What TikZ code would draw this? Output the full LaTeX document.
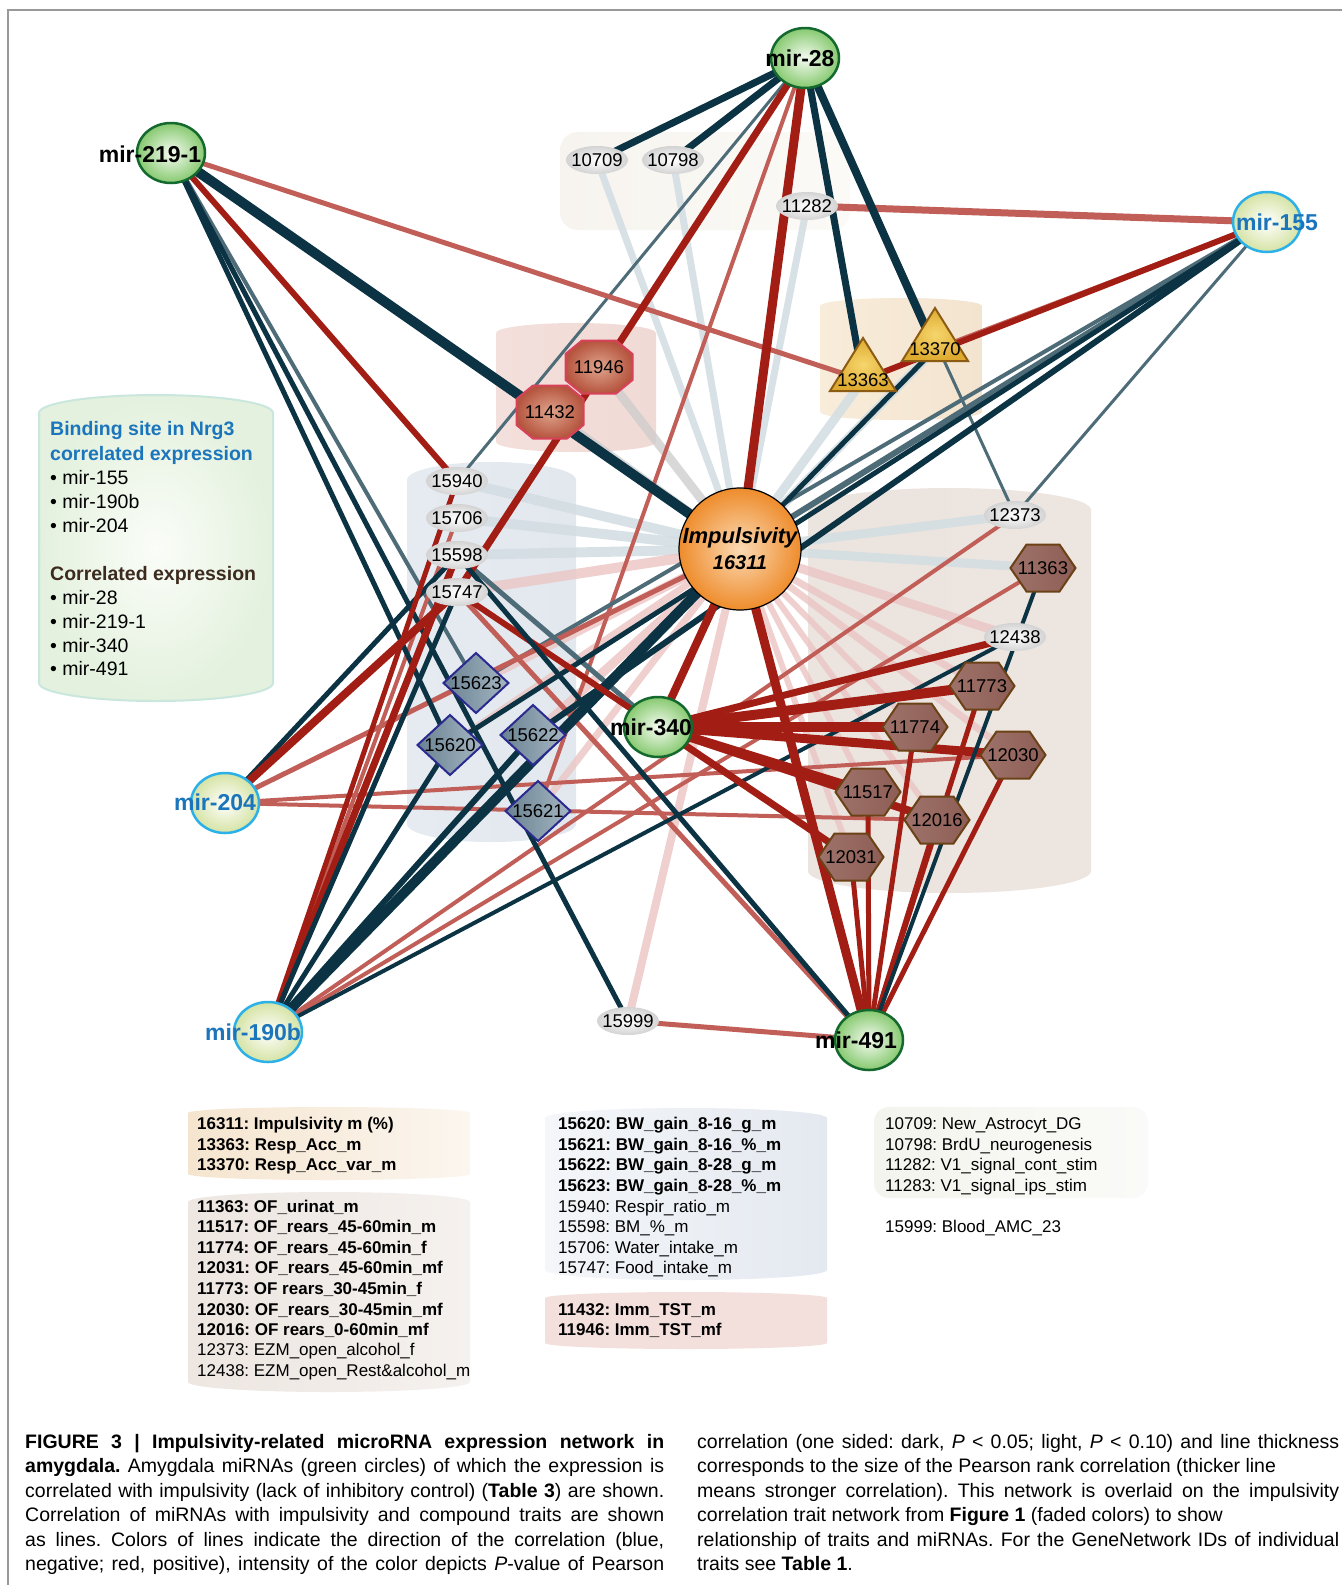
\documentclass[tikz,border=0pt]{standalone}
\usepackage{fontspec}
\setmainfont{Liberation Sans}
\usetikzlibrary{shapes.geometric}
\frenchspacing
\definecolor{cDB}{HTML}{0B3343}
\definecolor{cSB}{HTML}{4E6C78}
\definecolor{cDR}{HTML}{A21E15}
\definecolor{cLR}{HTML}{C05E57}
\definecolor{cFB}{HTML}{D2DDE2}
\definecolor{cFR}{HTML}{EBC5C4}
\definecolor{cFG}{HTML}{CCCCCC}
\definecolor{cBlue}{HTML}{1B75BC}
\definecolor{cBrownT}{HTML}{3D2A1E}
\definecolor{cGreenB}{HTML}{14692F}
\definecolor{cGreenO}{HTML}{86C96F}
\definecolor{cGreenI}{HTML}{F6FBF2}
\definecolor{cBlueB}{HTML}{2BB0E8}
\definecolor{cYelO}{HTML}{D5E3A4}
\definecolor{cGreyO}{HTML}{D3D3D3}
\definecolor{cOctB}{HTML}{D8415A}
\definecolor{cOctI}{HTML}{DFA48C}
\definecolor{cOctO}{HTML}{B6553F}
\definecolor{cTriB}{HTML}{8C5C14}
\definecolor{cTriI}{HTML}{F6D66E}
\definecolor{cTriO}{HTML}{DDA92E}
\definecolor{cDiaB}{HTML}{2A2A90}
\definecolor{cDiaL}{HTML}{6A8292}
\definecolor{cDiaR}{HTML}{A5B6C2}
\definecolor{cHexB}{HTML}{6B4216}
\definecolor{cHexL}{HTML}{9E726A}
\definecolor{cHexM}{HTML}{B8958F}
\definecolor{cHexR}{HTML}{8D5E56}
\definecolor{cImpI}{HTML}{FBDAB4}
\definecolor{cImpO}{HTML}{EE8C2C}
% background tints
\definecolor{bRedL}{HTML}{F3DFDB}\definecolor{bRedM}{HTML}{F6E8E5}\definecolor{bRedR}{HTML}{F0DAD6}
\definecolor{bOrL}{HTML}{F8ECDA}\definecolor{bOrM}{HTML}{FCF6EE}\definecolor{bOrR}{HTML}{F3E4CF}
\definecolor{bBlL}{HTML}{E6EAF1}\definecolor{bBlM}{HTML}{F2F4F8}\definecolor{bBlR}{HTML}{E3E8EF}
\definecolor{bBrL}{HTML}{ECE4DF}\definecolor{bBrM}{HTML}{F8F6F2}\definecolor{bBrR}{HTML}{EDE5E0}
\definecolor{bGrI}{HTML}{FAFDF8}\definecolor{bGrO}{HTML}{E4F1DE}\definecolor{bGrB}{HTML}{C9E7DC}
\definecolor{bTopL}{HTML}{F7F4EF}\definecolor{bTopR}{HTML}{FBFAF6}
\definecolor{lOrL}{HTML}{F5E5CF}\definecolor{lOrR}{HTML}{FBF6EF}
\definecolor{lBrL}{HTML}{EDE6E1}\definecolor{lBrR}{HTML}{F5F1EE}
\definecolor{lBlL}{HTML}{F4F6F9}\definecolor{lBlR}{HTML}{E4E9F0}
\definecolor{lRd}{HTML}{F3E0DD}
\definecolor{lGyL}{HTML}{F4F4EE}\definecolor{lGyR}{HTML}{FAFAF8}
\pgfdeclarelayer{bg}
\pgfdeclarelayer{edges}
\pgfsetlayers{bg,edges,main}
\newcommand\fs[1]{\fontsize{#1}{#1}\selectfont}
\newcommand\cedge[4]{\draw[#1,line width=#2pt] (#3.center) -- (#4.center);}
\newcommand\octat[3]{\path[octs] (#2) ++(-17,-26.5) -- ++(34,0) -- ++(16.5,13.5) -- ++(0,26) -- ++(-16.5,13.5) -- ++(-34,0) -- ++(-16.5,-13.5) -- ++(0,-26) -- cycle; \node[plab] (#1) at (#2) {#3};}
\newcommand\hexat[3]{\path[hexs] (#2) ++(-32.5,0) -- ++(16,-23.5) -- ++(33,0) -- ++(16,23.5) -- ++(-16,23.5) -- ++(-33,0) -- cycle; \node[plab] (#1) at (#2) {#3};}
\newcommand\diaat[3]{\path[dias] (#2) ++(-32.5,0) -- ++(32.5,-30) -- ++(32.5,30) -- ++(-32.5,30) -- cycle; \node[plab] (#1) at (#2) {#3};}
\newcommand\triat[4]{\path[tris] (#2) ++(0,-34) -- ++(33,53) -- ++(-66,0) -- cycle; \node[plab] (#1) at (#3) {#4};}
\newcommand\cyl[6]{\path[#6] (#1,#2+#5) -- (#1,#4-#5) arc[start angle=180,end angle=0,x radius={(#3-#1)/2},y radius=#5] -- (#3,#2+#5) arc[start angle=0,end angle=-180,x radius={(#3-#1)/2},y radius=#5] -- cycle;}
\newcommand\jl[1]{\makebox[639pt][s]{#1}}
\newcommand\jr[1]{\makebox[642pt][s]{#1}}
\begin{document}
\begin{tikzpicture}[x=1pt,y=-1pt,
  eDB/.style={draw=cDB}, eSB/.style={draw=cSB}, eDR/.style={draw=cDR}, eLR/.style={draw=cLR},
  eFB/.style={draw=cFB,draw opacity=0.85}, eFR/.style={draw=cFR,draw opacity=0.8}, eFG/.style={draw=cFG,draw opacity=0.75},
  mirg/.style={ellipse,minimum width=68pt,minimum height=60pt,inner sep=0pt,draw=cGreenB,line width=2.5pt,inner color=cGreenI,outer color=cGreenO},
  mirb/.style={ellipse,minimum width=68pt,minimum height=60pt,inner sep=0pt,draw=cBlueB,line width=2.5pt,inner color=white,outer color=cYelO},
  mirlab/.style={font=\fs{23}\bfseries,inner sep=0pt},
  gel/.style={ellipse,minimum width=62pt,minimum height=28pt,inner xsep=-4pt,inner ysep=0pt,inner color=white,outer color=cGreyO,font=\fs{18.5}},
  plab/.style={font=\fs{18.5},inner sep=0pt},
  octs/.style={draw=cOctB,line width=2pt,inner color=cOctI,outer color=cOctO},
  tris/.style={draw=cTriB,line width=2pt,inner color=cTriI,outer color=cTriO},
  dias/.style={draw=cDiaB,line width=2pt,left color=cDiaL,right color=cDiaR},
  hexs/.style={draw=cHexB,line width=2pt,left color=cHexL,middle color=cHexM,right color=cHexR},
  lg/.style={anchor=base west,inner sep=0pt,font=\fs{17}},
  nr/.style={anchor=base west,inner sep=0pt,font=\fs{19.5}},
  captext/.style={anchor=base west,inner sep=0pt,font=\fs{19.5}}]
\useasboundingbox (0,0) rectangle (1342,1585);
\begin{pgfonlayer}{bg}
\fill[white] (0,0) rectangle (1342,1585);
\draw[gray!80,line width=1.5pt] (1342,10) -- (8,10) -- (8,1585);
% background groups
\path[left color=bTopL,right color=bTopR,rounded corners=18pt] (560,132) rectangle (850,230);
\cyl{496}{323}{656}{452}{10}{left color=bRedL,middle color=bRedM,right color=bRedR}
\cyl{820}{298}{982}{420}{8}{left color=bOrL,middle color=bOrM,right color=bOrR}
\cyl{407}{462}{576}{842}{18}{left color=bBlL,middle color=bBlM,right color=bBlR}
\cyl{808}{488}{1091}{893}{22}{left color=bBrL,middle color=bBrM,right color=bBrR}
\cyl{39}{395}{273}{701}{18}{draw=bGrB,line width=2pt,inner color=bGrI,outer color=bGrO}
% bottom legend boxes
\cyl{188}{1107}{470}{1180}{6}{left color=lOrL,right color=lOrR}
\cyl{188}{1192}{470}{1392}{10}{left color=lBrL,right color=lBrR}
\cyl{545}{1108}{827}{1280}{10}{left color=lBlL,right color=lBlR}
\cyl{545}{1292}{827}{1349}{6}{fill=lRd}
\path[left color=lGyL,right color=lGyR,rounded corners=15pt] (874,1107) rectangle (1148,1198);
\end{pgfonlayer}
% ---- nodes ----
\node[mirg] (mir28) at (805,58) {};
\node[mirlab] (mir28t) at (800,58) {mir-28};
\node[mirg] (mir219) at (171,153) {};
\node[mirlab] (mir219t) at (150,154) {mir-219-1};
\node[mirb] (mir155) at (1267,222) {};
\node[mirlab,text=cBlue] (mir155t) at (1277,222) {mir-155};
\node[mirb] (mir204) at (225,803) {};
\node[mirlab,text=cBlue] (mir204t) at (215,802) {mir-204};
\node[mirb] (mir190b) at (268,1032) {};
\node[mirlab,text=cBlue] (mir190bt) at (253,1032) {mir-190b};
\node[mirg] (mir491) at (869,1040) {};
\node[mirlab] (mir491t) at (856,1040) {mir-491};
\node[mirg] (mir340) at (658,727) {};
\node[mirlab] (mir340t) at (651,727) {mir-340};
\node[circle,minimum size=122pt,inner sep=0pt,draw=black,line width=1.2pt,inner color=cImpI,outer color=cImpO] (imp) at (740,549) {};
\node[font=\fs{22}\bfseries\itshape,inner sep=0pt] (impa) at (740,538) {Impulsivity};
\node[font=\fs{20}\bfseries\itshape,inner sep=0pt] (impb) at (740,563) {16311};
\node[gel] (n10709) at (597,160) {10709};
\node[gel] (n10798) at (673,160) {10798};
\node[gel] (n11282) at (807,206) {11282};
\node[gel] (n15940) at (457,481) {15940};
\node[gel] (n15706) at (457,518) {15706};
\node[gel] (n15598) at (457,555) {15598};
\node[gel] (n15747) at (457,592) {15747};
\node[gel] (n12373) at (1015,515) {12373};
\node[gel] (n12438) at (1015,637) {12438};
\node[gel] (n15999) at (628,1021) {15999};
\octat{o11946}{599,367}{11946}
\octat{o11432}{550,412}{11432}
\triat{t13363}{863,372}{863,380}{13363}
\triat{t13370}{935,342}{935,349}{13370}
\diaat{d15623}{476,683}{15623}
\diaat{d15620}{450,745}{15620}
\diaat{d15622}{533,735}{15622}
\diaat{d15621}{538,811}{15621}
\hexat{h11363}{1043,568}{11363}
\hexat{h11773}{982,686}{11773}
\hexat{h11774}{915,727}{11774}
\hexat{h12030}{1013,755}{12030}
\hexat{h11517}{868,792}{11517}
\hexat{h12016}{937,820}{12016}
\hexat{h12031}{851,857}{12031}
% ---- edges ----
\begin{pgfonlayer}{edges}
% faded trait network
\cedge{eFB}{7}{imp}{n10709}
\cedge{eFB}{7}{imp}{n10798}
\cedge{eFB}{7}{imp}{n11282}
\cedge{eFG}{9}{imp}{o11946}
\cedge{eFG}{9}{imp}{o11432}
\cedge{eFB}{9}{imp}{t13363}
\cedge{eFB}{9}{imp}{t13370}
\cedge{eFB}{10}{imp}{n15940}
\cedge{eFB}{10}{imp}{n15706}
\cedge{eFB}{10}{imp}{n15598}
\cedge{eFR}{10}{imp}{n15747}
\cedge{eFB}{9}{imp}{n12373}
\cedge{eFB}{9}{imp}{h11363}
\cedge{eFR}{9}{imp}{n12438}
\cedge{eFR}{7}{imp}{h11773}
\cedge{eFR}{7}{imp}{h12030}
\cedge{eFR}{6}{imp}{h11774}
\cedge{eFR}{6}{imp}{h11517}
\cedge{eFR}{6}{imp}{h12016}
\cedge{eFR}{6}{imp}{h12031}
\cedge{eFR}{9}{imp}{d15623}
\cedge{eFR}{9}{imp}{d15622}
\cedge{eFR}{7}{imp}{d15620}
\cedge{eFR}{7}{imp}{d15621}
\cedge{eFR}{8}{imp}{n15999}
% light edges
\cedge{eLR}{4}{mir28}{d15621}
\cedge{eSB}{3}{mir28}{n15940}
\cedge{eSB}{3}{mir28}{n12373}
\cedge{eLR}{5}{mir219}{t13363}
\cedge{eSB}{4}{mir219}{d15623}
\cedge{eLR}{7}{mir155}{n11282}
\cedge{eLR}{4}{mir155}{t13370}
\cedge{eSB}{6}{mir155}{imp}
\cedge{eSB}{4}{mir155}{d15623}
\cedge{eSB}{3}{mir155}{n12373}
\cedge{eLR}{5}{mir204}{imp}
\cedge{eLR}{4}{mir204}{h12030}
\cedge{eLR}{4}{mir204}{h12016}
\cedge{eLR}{4}{mir190b}{n15706}
\cedge{eLR}{4}{mir190b}{h11363}
\cedge{eLR}{4}{mir190b}{n12373}
\cedge{eSB}{5}{mir340}{n15598}
\cedge{eLR}{5}{mir491}{n15999}
\cedge{eLR}{5}{mir491}{n15747}
% dark edges
\cedge{eDB}{7}{mir28}{n10709}
\cedge{eDB}{7}{mir28}{n10798}
\cedge{eDR}{7}{mir28}{n15747}
\cedge{eDR}{9}{mir28}{imp}
\cedge{eDB}{7}{mir28}{t13363}
\cedge{eDB}{8}{mir28}{t13370}
\cedge{eDB}{10}{mir219}{imp}
\cedge{eDR}{6}{mir219}{n15940}
\cedge{eDB}{5}{mir219}{d15620}
\cedge{eDB}{5}{mir219}{n15999}
\cedge{eDR}{6}{mir155}{t13363}
\cedge{eDB}{6}{mir155}{d15622}
\cedge{eDB}{5}{mir155}{d15620}
\cedge{eDB}{5}{mir204}{n15598}
\cedge{eDR}{8}{mir204}{n15747}
\cedge{eDR}{5}{mir190b}{n15940}
\cedge{eDR}{7}{mir190b}{n15598}
\cedge{eDB}{5}{mir190b}{n15747}
\cedge{eDB}{5}{mir190b}{d15620}
\cedge{eDB}{6}{mir190b}{d15622}
\cedge{eDB}{10}{mir190b}{imp}
\cedge{eDB}{5}{mir190b}{t13370}
\cedge{eDB}{4}{mir190b}{n12438}
\cedge{eDR}{8}{mir340}{imp}
\cedge{eDR}{7}{mir340}{n12438}
\cedge{eDR}{10}{mir340}{h11773}
\cedge{eDR}{10}{mir340}{h11774}
\cedge{eDR}{9}{mir340}{h12030}
\cedge{eDR}{9}{mir340}{h11517}
\cedge{eDR}{8}{mir340}{h12016}
\cedge{eDR}{7}{mir340}{h12031}
\cedge{eDR}{6}{mir340}{n15747}
\cedge{eDR}{9}{mir491}{imp}
\cedge{eDB}{5}{mir491}{n15598}
\cedge{eDR}{5}{mir491}{h12031}
\cedge{eDR}{5}{mir491}{h11517}
\cedge{eDR}{5}{mir491}{h11774}
\cedge{eDR}{5}{mir491}{h11773}
\cedge{eDR}{5}{mir491}{h12016}
\cedge{eDR}{5}{mir491}{h12030}
\cedge{eDB}{4}{mir491}{h11363}
\end{pgfonlayer}
% ---- Nrg3 legend ----
\node[nr,font=\fs{19.5}\bfseries,text=cBlue] (nr1) at (50,435) {Binding site in Nrg3};
\node[nr,font=\fs{19.5}\bfseries,text=cBlue] (nr2) at (50,460) {correlated expression};
\node[nr] (nr3) at (50,484) {• mir-155};
\node[nr] (nr4) at (50,508) {• mir-190b};
\node[nr] (nr5) at (50,532) {• mir-204};
\node[nr,font=\fs{19.5}\bfseries,text=cBrownT] (nr6) at (50,580) {Correlated expression};
\node[nr] (nr7) at (50,604) {• mir-28};
\node[nr] (nr8) at (50,628) {• mir-219-1};
\node[nr] (nr9) at (50,652) {• mir-340};
\node[nr] (nr10) at (50,675) {• mir-491};
% ---- bottom legends ----
\node[lg,font=\fs{17}\bfseries] (la1) at (197,1129) {16311: Impulsivity m (\%)};
\node[lg,font=\fs{17}\bfseries] (la2) at (197,1150) {13363: Resp\_Acc\_m};
\node[lg,font=\fs{17}\bfseries] (la3) at (197,1170) {13370: Resp\_Acc\_var\_m};
\node[lg,font=\fs{17}\bfseries] (lb1) at (197,1212) {11363: OF\_urinat\_m};
\node[lg,font=\fs{17}\bfseries] (lb2) at (197,1232) {11517: OF\_rears\_45-60min\_m};
\node[lg,font=\fs{17}\bfseries] (lb3) at (197,1253) {11774: OF\_rears\_45-60min\_f};
\node[lg,font=\fs{17}\bfseries] (lb4) at (197,1273) {12031: OF\_rears\_45-60min\_mf};
\node[lg,font=\fs{17}\bfseries] (lb5) at (197,1294) {11773: OF rears\_30-45min\_f};
\node[lg,font=\fs{17}\bfseries] (lb6) at (197,1315) {12030: OF\_rears\_30-45min\_mf};
\node[lg,font=\fs{17}\bfseries] (lb7) at (197,1335) {12016: OF rears\_0-60min\_mf};
\node[lg] (lb8) at (197,1355) {12373: EZM\_open\_alcohol\_f};
\node[lg] (lb9) at (197,1376) {12438: EZM\_open\_Rest\&alcohol\_m};
\node[lg,font=\fs{17}\bfseries] (lc1) at (558,1129) {15620: BW\_gain\_8-16\_g\_m};
\node[lg,font=\fs{17}\bfseries] (lc2) at (558,1150) {15621: BW\_gain\_8-16\_\%\_m};
\node[lg,font=\fs{17}\bfseries] (lc3) at (558,1170) {15622: BW\_gain\_8-28\_g\_m};
\node[lg,font=\fs{17}\bfseries] (lc4) at (558,1191) {15623: BW\_gain\_8-28\_\%\_m};
\node[lg] (lc5) at (558,1212) {15940: Respir\_ratio\_m};
\node[lg] (lc6) at (558,1232) {15598: BM\_\%\_m};
\node[lg] (lc7) at (558,1253) {15706: Water\_intake\_m};
\node[lg] (lc8) at (558,1273) {15747: Food\_intake\_m};
\node[lg,font=\fs{17}\bfseries] (ld1) at (558,1315) {11432: Imm\_TST\_m};
\node[lg,font=\fs{17}\bfseries] (ld2) at (558,1335) {11946: Imm\_TST\_mf};
\node[lg] (le1) at (885,1129) {10709: New\_Astrocyt\_DG};
\node[lg] (le2) at (885,1150) {10798: BrdU\_neurogenesis};
\node[lg] (le3) at (885,1170) {11282: V1\_signal\_cont\_stim};
\node[lg] (le4) at (885,1191) {11283: V1\_signal\_ips\_stim};
\node[lg] (le5) at (885,1232) {15999: Blood\_AMC\_23};
% ---- caption ----
\node[captext] (c1) at (25,1448) {\jl{\textbf{FIGURE 3 | Impulsivity-related microRNA expression network in}}};
\node[captext] (c2) at (25,1472.5) {\jl{\textbf{amygdala.} Amygdala miRNAs (green circles) of which the expression is}};
\node[captext] (c3) at (25,1497) {\jl{correlated with impulsivity (lack of inhibitory control) (\textbf{Table 3}) are shown.}};
\node[captext] (c4) at (25,1521.5) {\jl{Correlation of miRNAs with impulsivity and compound traits are shown}};
\node[captext] (c5) at (25,1546) {\jl{as lines. Colors of lines indicate the direction of the correlation (blue,}};
\node[captext] (c6) at (25,1570.5) {\jl{negative; red, positive), intensity of the color depicts \textit{P}-value of Pearson}};
\node[captext] (c7) at (697,1448) {\jr{correlation (one sided: dark, \textit{P} < 0.05; light, \textit{P} < 0.10) and line thickness}};
\node[captext] (c8) at (697,1472.5) {corresponds to the size of the Pearson rank correlation (thicker line};
\node[captext] (c9) at (697,1497) {\jr{means stronger correlation). This network is overlaid on the impulsivity}};
\node[captext] (c10) at (697,1521.5) {correlation trait network from \textbf{Figure 1} (faded colors) to show};
\node[captext] (c11) at (697,1546) {\jr{relationship of traits and miRNAs. For the GeneNetwork IDs of individual}};
\node[captext] (c12) at (697,1570.5) {traits see \textbf{Table 1}.};
\end{tikzpicture}
\end{document}
